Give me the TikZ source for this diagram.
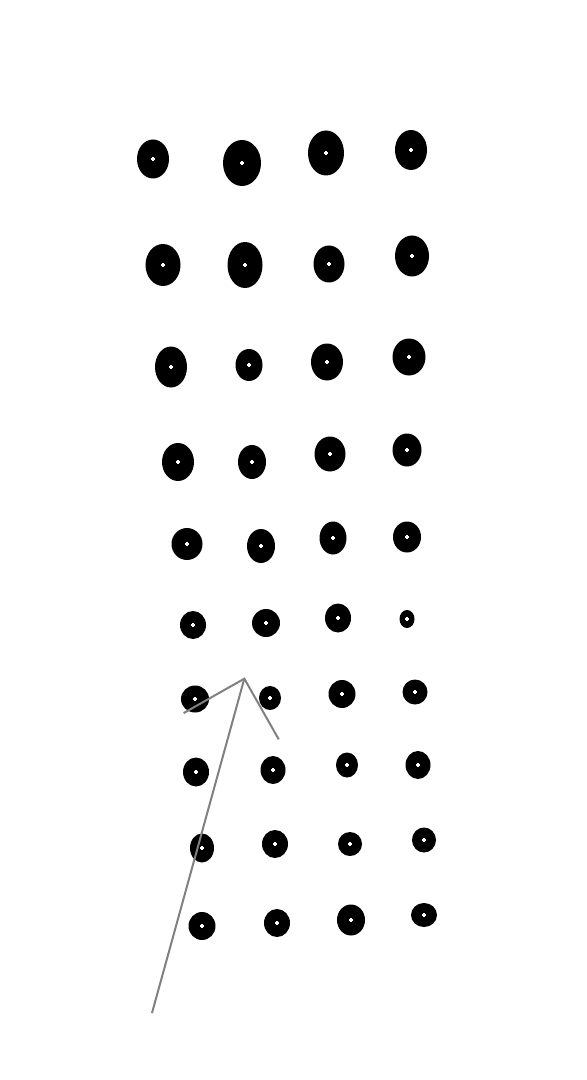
\documentclass[tikz,border=0pt]{standalone}
\usepackage{amsmath, amssymb}
\usepackage{xcolor}
\usepackage{tikz}
\usetikzlibrary{shapes.geometric, arrows.meta}

\tikzset{
    sz/.style 2 args={minimum width=#1*0.75pt, minimum height=#2*0.75pt},
}

\begin{document}
\begin{tikzpicture}[x=0.75pt, y=-0.75pt, thick,
    blob/.style={ellipse, fill=black, inner sep=0pt,
        path picture={\draw[white, line width=0.8pt]
            (path picture bounding box.center) ++(-1.3pt,0) -- ++(2.6pt,0)
            (path picture bounding box.center) ++(0,-1.3pt) -- ++(0,2.6pt);}},
    pointer/.style={draw=gray, line width=1.5pt, -{Straight Barb[length=37pt, width=74pt]}}]
    \useasboundingbox (0,0) rectangle (586,1080);

    % row 1
    \node[blob, sz={32}{39}] (r1c1) at (153,159) {};
    \node[blob, sz={38}{46}] (r1c2) at (242,163) {};
    \node[blob, sz={36}{45}] (r1c3) at (326,153) {};
    \node[blob, sz={32}{40}] (r1c4) at (411,150) {};
    % row 2
    \node[blob, sz={35}{42}] (r2c1) at (163,265) {};
    \node[blob, sz={35}{46}] (r2c2) at (245,265) {};
    \node[blob, sz={31}{37}] (r2c3) at (329,264) {};
    \node[blob, sz={34}{41}] (r2c4) at (412,256) {};
    % row 3
    \node[blob, sz={32}{41}] (r3c1) at (171,367) {};
    \node[blob, sz={27}{32}] (r3c2) at (249,365) {};
    \node[blob, sz={32}{37}] (r3c3) at (327,362) {};
    \node[blob, sz={33}{37}] (r3c4) at (409,357) {};
    % row 4
    \node[blob, sz={32}{38}] (r4c1) at (178,462) {};
    \node[blob, sz={28}{34}] (r4c2) at (252,462) {};
    \node[blob, sz={31}{35}] (r4c3) at (330,454) {};
    \node[blob, sz={29}{33}] (r4c4) at (407,450) {};
    % row 5
    \node[blob, sz={31}{32}] (r5c1) at (187,544) {};
    \node[blob, sz={28}{34}] (r5c2) at (261,546) {};
    \node[blob, sz={27}{33}] (r5c3) at (333,538) {};
    \node[blob, sz={28}{31}] (r5c4) at (407,537) {};
    % row 6
    \node[blob, sz={26}{28}] (r6c1) at (193,625) {};
    \node[blob, sz={28}{28}] (r6c2) at (266,623) {};
    \node[blob, sz={26}{29}] (r6c3) at (338,618) {};
    \node[blob, sz={15}{18}] (r6c4) at (407,619) {};
    % row 7
    \node[blob, sz={28}{27}] (r7c1) at (195,699) {};
    \node[blob, sz={22}{24}] (r7c2) at (270,698) {};
    \node[blob, sz={27}{28}] (r7c3) at (342,694) {};
    \node[blob, sz={25}{25}] (r7c4) at (415,692) {};
    % row 8
    \node[blob, sz={26}{29}] (r8c1) at (196,772) {};
    \node[blob, sz={25}{28}] (r8c2) at (273,770) {};
    \node[blob, sz={22}{25}] (r8c3) at (347,765) {};
    \node[blob, sz={25}{28}] (r8c4) at (418,765) {};
    % row 9
    \node[blob, sz={24}{29}] (r9c1) at (202,848) {};
    \node[blob, sz={26}{28}] (r9c2) at (275,844) {};
    \node[blob, sz={24}{24}] (r9c3) at (350,844) {};
    \node[blob, sz={24}{25}] (r9c4) at (424,840) {};
    % row 10
    \node[blob, sz={27}{28}] (r10c1) at (202,926) {};
    \node[blob, sz={26}{28}] (r10c2) at (277,923) {};
    \node[blob, sz={28}{31}] (r10c3) at (351,920) {};
    \node[blob, sz={26}{24}] (r10c4) at (424,915) {};

    \coordinate (tail) at (152,1013);
    \coordinate (tip) at (244.7,677.3);
    \draw[pointer] (tail) -- (tip);
\end{tikzpicture}
\end{document}
